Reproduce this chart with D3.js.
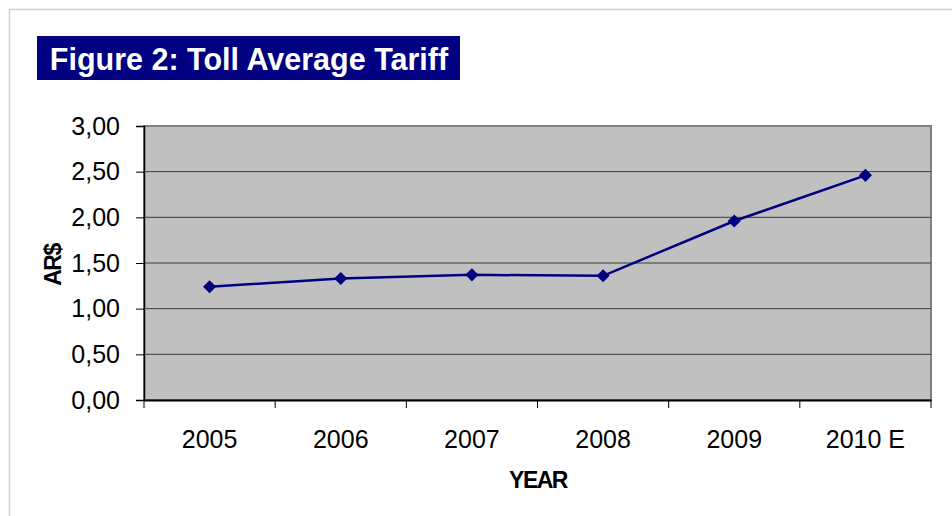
<!DOCTYPE html>
<html>
<head>
<meta charset="utf-8">
<script src="https://cdn.jsdelivr.net/npm/d3@7"></script>
<style>
  body { margin: 0; background: #fff; }
  svg { display: block; }
</style>
</head>
<body>
<div id="chart"></div>
<script>
// valeurs
var years = ["2005", "2006", "2007", "2008", "2009", "2010 E"];
var tarif = [1.24, 1.33, 1.37, 1.36, 1.96, 2.46];
var yTicks = [0, 0.5, 1, 1.5, 2, 2.5, 3];

var width = 952, height = 516;
var plot = {left: 144, top: 126, right: 931, bottom: 400};
var font = "Arial, 'Liberation Sans', sans-serif";

var svg = d3.select("#chart").append("svg")
    .attr("width", width).attr("height", height);

// cadre extérieur
svg.append("rect")
    .attr("x", 9.5).attr("y", 9.5)
    .attr("width", width + 20).attr("height", height + 20)
    .attr("fill", "none").attr("stroke", "#c9d2de").attr("stroke-width", 1.5);

// titre
svg.append("rect")
    .attr("x", 37).attr("y", 36).attr("width", 423).attr("height", 44)
    .attr("fill", "#000080");
svg.append("text")
    .attr("x", 249).attr("y", 70)
    .attr("text-anchor", "middle")
    .attr("font-family", font).attr("font-weight", "bold")
    .attr("font-size", "30.5px").attr("fill", "#fff")
    .text("Figure 2: Toll Average Tariff");

var x = d3.scaleBand().domain(years).range([plot.left, plot.right]);
var y = d3.scaleLinear().domain([0, 3]).range([plot.bottom, plot.top]);

// zone de tracé
svg.append("rect")
    .attr("x", plot.left).attr("y", plot.top)
    .attr("width", plot.right - plot.left).attr("height", plot.bottom - plot.top)
    .attr("fill", "#c0c0c0").attr("stroke", "#808080").attr("stroke-width", 2);

// quadrillage
svg.append("g").selectAll("line").data(yTicks.filter(d => d > 0 && d < 3)).enter().append("line")
    .attr("x1", plot.left).attr("x2", plot.right)
    .attr("y1", d => y(d)).attr("y2", d => y(d))
    .attr("stroke", "#3a3a3a").attr("stroke-width", 1);

// axe Y
var fmt = d => d3.format(".2f")(d).replace(".", ",");
var gy = svg.append("g")
    .attr("transform", "translate(" + plot.left + ",0)")
    .call(d3.axisLeft(y).tickValues(yTicks).tickFormat(fmt).tickSize(8).tickPadding(16));
gy.select(".domain").attr("stroke", "#000").attr("stroke-width", 1.5);
gy.selectAll(".tick line").attr("stroke", "#000");
gy.selectAll(".tick text")
    .attr("font-family", font).attr("font-size", "25px").attr("fill", "#000");

// axe X
var gx = svg.append("g")
    .attr("transform", "translate(0," + plot.bottom + ")")
    .call(d3.axisBottom(x).tickSize(0).tickPadding(30));
gx.select(".domain").attr("stroke", "#000").attr("stroke-width", 2);
gx.selectAll(".tick text")
    .attr("font-family", font).attr("font-size", "25px").attr("fill", "#000");
// graduations entre les catégories
gx.selectAll(".sep").data(years.concat([""])).enter().append("line")
    .attr("class", "sep")
    .attr("x1", (d, i) => plot.left + i * x.step())
    .attr("x2", (d, i) => plot.left + i * x.step())
    .attr("y1", 0).attr("y2", 8)
    .attr("stroke", "#000");

// titres des axes
svg.append("text")
    .attr("x", 538).attr("y", 488)
    .attr("text-anchor", "middle")
    .attr("font-family", font).attr("font-weight", "bold")
    .attr("font-size", "23px").attr("letter-spacing", "-1.5px")
    .text("YEAR");
svg.append("text")
    .attr("transform", "translate(61,265) rotate(-90)")
    .attr("text-anchor", "middle")
    .attr("font-family", font).attr("font-weight", "bold")
    .attr("font-size", "23px").attr("letter-spacing", "-1.5px")
    .text("AR$");

// série
var line = d3.line()
    .x((d, i) => x(years[i]) + x.bandwidth() / 2)
    .y(d => y(d));
svg.append("path")
    .datum(tarif)
    .attr("d", line)
    .attr("fill", "none").attr("stroke", "#000080").attr("stroke-width", 2.5);

svg.append("g").selectAll("path").data(tarif).enter().append("path")
    .attr("d", d3.symbol().type(d3.symbolDiamond2).size(110))
    .attr("transform", (d, i) => "translate(" + (x(years[i]) + x.bandwidth() / 2) + "," + y(d) + ")")
    .attr("fill", "#000080");
</script>
</body>
</html>
